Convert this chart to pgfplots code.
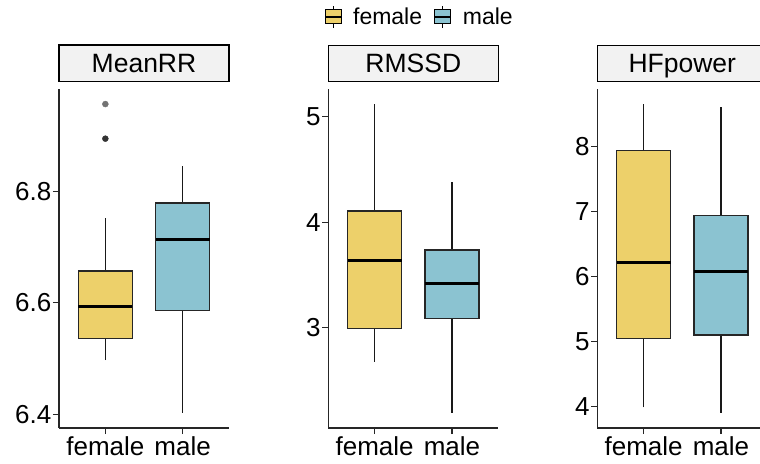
\documentclass[border=0pt]{standalone}
\usepackage{pgfplots}
\pgfplotsset{compat=1.18}
\usepackage{fontspec}
\setmainfont{Liberation Sans}
\definecolor{femc}{RGB}{237,208,106}
\definecolor{malc}{RGB}{139,195,209}
\definecolor{stripc}{RGB}{242,242,242}
\pgfplotsset{
  panel/.style={
    width=170pt, height=339pt, scale only axis,
    anchor=south west,
    xmin=0.4, xmax=2.6,
    axis x line=bottom, axis y line=left,
    axis line style={-, line width=1.2pt, black!85},
    x axis line style={-}, y axis line style={-},
    tick align=outside, major tick length=6pt,
    tick style={line width=1.2pt, black!85},
    xtick={1,2}, xticklabels={female,male},
    ticklabel style={font=\fontsize{26}{30}\selectfont, text=black},
    /pgf/number format/assume math mode=true,
    /pgf/number format/fixed,
    yticklabel style={inner sep=1.5pt},
    xticklabel style={inner sep=2pt},
    title style={at={(0.5,1)}, anchor=south, draw=black, line width=1.3pt,
      fill=stripc, minimum width=170pt, minimum height=36.6pt, inner sep=0pt,
      text height=19pt, text depth=0pt,
      font=\fontsize{26.5}{30}\selectfont, yshift=0.6pt},
  },
}
% #1 left edge, #2 centre, #3 right edge, #4 fill,
% #5 lower whisker, #6 Q1, #7 median, #8 Q3, #9 upper whisker
\newcommand{\gbox}[9]{%
  \addplot[black!90, line width=1.25pt] coordinates {(#2,#5) (#2,#6)};
  \addplot[black!90, line width=1.25pt] coordinates {(#2,#8) (#2,#9)};
  \addplot[fill=#4, draw=black!85, line width=1.4pt, line join=miter]
    coordinates {(#1,#6) (#3,#6) (#3,#8) (#1,#8)} -- cycle;
  \addplot[black, line width=3pt] coordinates {(#1,#7) (#3,#7)};
}
\begin{document}
\begin{tikzpicture}
% panel 1
\begin{axis}[panel, at={(59pt,-428pt)}, ymin=6.3755, ymax=6.983,
  ytick={6.4,6.6,6.8}, yticklabels={6.4,6.6,6.8}, title={MeanRR},
  legend columns=2,
  legend style={at={(2.115,1.2124)}, anchor=center, draw=none, fill=none,
    font=\fontsize{23}{27}\selectfont, inner sep=0pt,
    nodes={inner sep=0pt},
    /tikz/every odd column/.append style={column sep=11pt},
    /tikz/every even column/.append style={column sep=12pt}},
  legend cell align=left]
\addlegendimage{legend image code/.code={
  \draw[black, line width=1pt] (8pt,-11pt)--(8pt,11pt);
  \draw[black, fill=femc, line width=1pt] (0pt,-7pt) rectangle (16pt,7pt);
  \draw[black, line width=1.7pt] (0pt,0pt)--(16pt,0pt);}}
\addlegendentry{female}
\addlegendimage{legend image code/.code={
  \draw[black, line width=1pt] (8pt,-11pt)--(8pt,11pt);
  \draw[black, fill=malc, line width=1pt] (0pt,-7pt) rectangle (16pt,7pt);
  \draw[black, line width=1.7pt] (0pt,0pt)--(16pt,0pt);}}
\addlegendentry{male}
\gbox{0.65}{1}{1.35}{femc}{6.497}{6.536}{6.594}{6.657}{6.751}
\gbox{1.65}{2}{2.35}{malc}{6.403}{6.586}{6.714}{6.779}{6.845}
\addplot[only marks, mark=*, mark size=3pt, color=black!80]
  coordinates {(1,6.894)};
\addplot[only marks, mark=*, mark size=3pt, color=black!55]
  coordinates {(1,6.956)};
\end{axis}
% panel 2
\begin{axis}[panel, at={(328.3pt,-428pt)}, ymin=2.049, ymax=5.262,
  ytick={3,4,5}, title={RMSSD}]
\gbox{0.65}{1}{1.35}{femc}{2.678}{2.994}{3.633}{4.107}{5.118}
\gbox{1.65}{2}{2.35}{malc}{2.194}{3.085}{3.414}{3.735}{4.385}
\end{axis}
% panel 3
\begin{axis}[panel, at={(597.3pt,-428pt)}, ymin=3.672, ymax=8.888,
  ytick={4,5,6,7,8}, title={HFpower}]
\gbox{0.65}{1}{1.35}{femc}{3.990}{5.052}{6.215}{7.938}{8.652}
\gbox{1.65}{2}{2.35}{malc}{3.908}{5.103}{6.087}{6.938}{8.606}
\end{axis}
\pgfresetboundingbox
\useasboundingbox (0pt,0pt) rectangle (760pt,-463pt);
\end{tikzpicture}
\end{document}
